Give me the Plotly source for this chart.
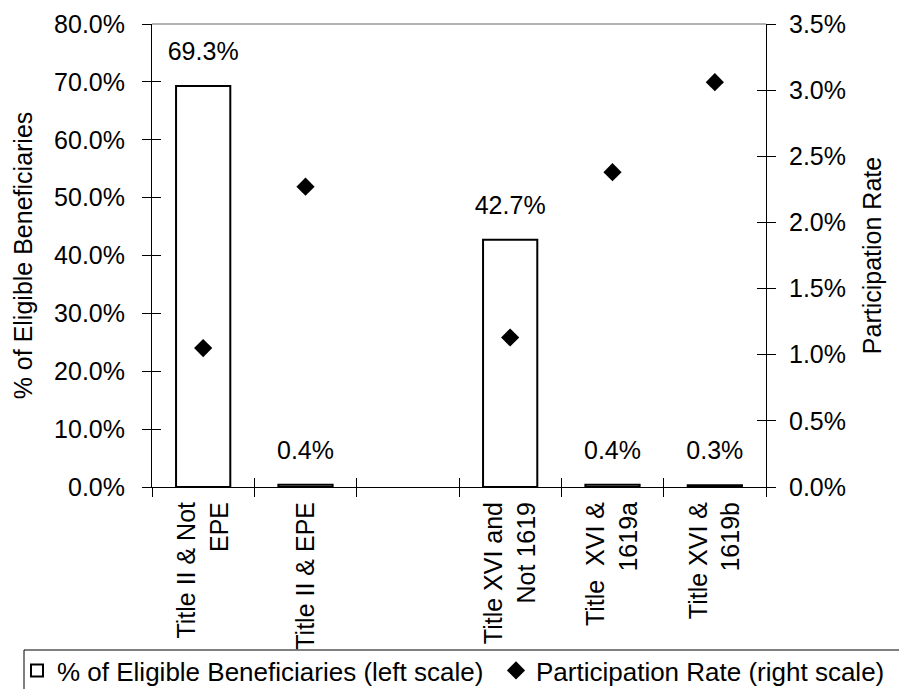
import numpy as np
import plotly.graph_objects as go

categories = ["Title II & Not<br>EPE", "Title II & EPE", "", "Title XVI and<br>Not 1619",
              "Title\u00a0 XVI &<br>1619a", "Title XVI &<br>1619b"]
pct_eligible = [69.3, 0.4, None, 42.7, 0.4, 0.3]
participation = [1.05, 2.27, None, 1.13, 2.38, 3.06]
left_ticks = [0, 10, 20, 30, 40, 50, 60, 70, 80]
right_ticks = [0, 0.5, 1.0, 1.5, 2.0, 2.5, 3.0, 3.5]

FONT = "Liberation Sans, Arial, sans-serif"
FS = 25
LFS = 26
xpos = list(range(len(categories)))
bounds = list(np.arange(len(categories) + 1) - 0.5)

# layout geometry (figure pixels; the page adds an 8px body margin)
L, R, T, B = 144, 149, 16, 210
PW, PH = 907 - L - R, 689 - T - B


def px_x(x):
    return (x - L) / PW


def px_y(y):
    return (689 - B - y) / PH


fig = go.Figure()
fig.add_trace(go.Bar(
    x=xpos, y=pct_eligible, name="% of Eligible Beneficiaries (left scale)",
    marker=dict(color="white", line=dict(color="black", width=2)),
    width=0.53, legend="legend",
))
# value labels above the bars (invisible anchor markers give the offset)
fig.add_trace(go.Scatter(
    x=xpos, y=pct_eligible, mode="markers+text", showlegend=False, hoverinfo="skip",
    marker=dict(size=30, opacity=0), cliponaxis=False,
    text=[None if v is None else f"{v:.1f}%" for v in pct_eligible],
    textposition="top center", textfont=dict(family=FONT, size=FS, color="black"),
))
fig.add_trace(go.Scatter(
    x=xpos, y=participation, yaxis="y2", mode="markers",
    name="Participation Rate (right scale)",
    marker=dict(symbol="diamond", size=14, color="black"),
    legend="legend2",
))
# invisible helper traces so the tick-crossing overlay axes get drawn
fig.add_trace(go.Scatter(x=[None], y=[None], xaxis="x2", yaxis="y3", showlegend=False,
                         hoverinfo="skip"))
fig.add_trace(go.Scatter(x=[None], y=[None], xaxis="x2", yaxis="y4", showlegend=False,
                         hoverinfo="skip"))

axcommon = dict(showgrid=False, zeroline=False, linecolor="black", tickcolor="black",
                automargin=False, tickfont=dict(family=FONT, size=FS, color="black"))
legcommon = dict(orientation="h", xanchor="left", yanchor="top", borderwidth=0,
                 bgcolor="rgba(0,0,0,0)", font=dict(family=FONT, size=LFS, color="black"))
fig.update_layout(
    width=907, height=689,
    margin=dict(l=L, r=R, t=T, b=B, autoexpand=False),
    paper_bgcolor="white", plot_bgcolor="white",
    font=dict(family=FONT, size=FS, color="black"),
    xaxis=dict(range=[-0.5, len(categories) - 0.5], tickmode="array", tickvals=xpos,
               ticktext=categories, tickangle=-90, ticks="", showline=True, linewidth=1,
               ticklabelstandoff=4,
               minor=dict(tickmode="array", tickvals=bounds, ticks="outside", ticklen=9,
                          tickcolor="black"),
               **axcommon),
    xaxis2=dict(overlaying="x", matches="x", anchor="y", showticklabels=False,
                tickmode="array", tickvals=bounds, ticks="inside", ticklen=9,
                tickcolor="black", showgrid=False, zeroline=False, showline=False,
                automargin=False),
    yaxis=dict(range=[0, 80], tickmode="array", tickvals=left_ticks,
               ticktext=[f"{v:.1f}%" for v in left_ticks], ticks="outside", ticklen=9,
               showline=True, linewidth=1, ticklabelstandoff=12,
               title=dict(text="% of Eligible Beneficiaries", font=dict(size=FS), standoff=14),
               **axcommon),
    yaxis2=dict(range=[0, 3.5], overlaying="y", side="right", anchor="x", tickmode="array",
                tickvals=right_ticks, ticktext=[f"{v:.1f}%" for v in right_ticks],
                ticks="outside", ticklen=9, showline=True, linewidth=1, ticklabelstandoff=8,
                title=dict(text="Participation Rate", font=dict(size=FS), standoff=18),
                **axcommon),
    yaxis3=dict(range=[0, 80], overlaying="y", side="left", anchor="x2", tickmode="array",
                tickvals=left_ticks, ticks="inside", ticklen=9, tickcolor="black",
                showticklabels=False, showgrid=False, zeroline=False, showline=False,
                automargin=False),
    yaxis4=dict(range=[0, 3.5], overlaying="y", side="right", anchor="x2", tickmode="array",
                tickvals=right_ticks, ticks="inside", ticklen=9, tickcolor="black",
                showticklabels=False, showgrid=False, zeroline=False, showline=False,
                automargin=False),
    showlegend=True,
    legend=dict(x=px_x(9), y=px_y(639), **legcommon),
    legend2=dict(x=px_x(488), y=px_y(639), **legcommon),
    shapes=[
        dict(type="line", xref="paper", yref="paper", x0=0, x1=1, y0=1, y1=1,
             line=dict(color="#999999", width=1.5)),
        dict(type="rect", xref="paper", yref="paper", x0=px_x(16), x1=px_x(930),
             y0=px_y(642), y1=px_y(720),
             line=dict(color="black", width=1), fillcolor="rgba(0,0,0,0)", layer="below"),
    ],
)
fig.write_html("out.html")
